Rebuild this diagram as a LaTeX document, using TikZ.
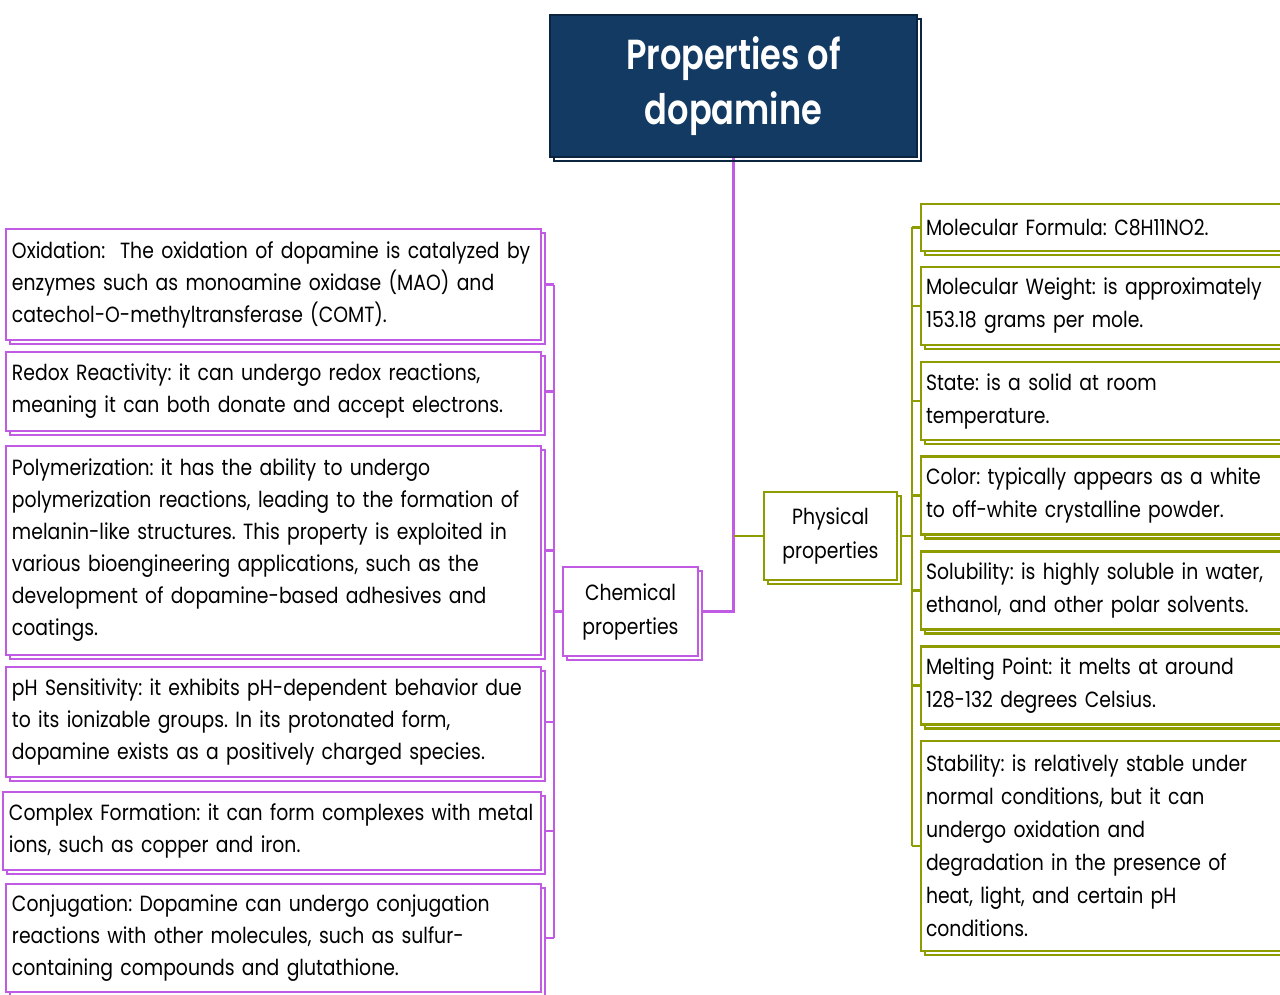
\documentclass[tikz,border=0pt]{standalone}
\usepackage{fontspec}
\setmainfont[FakeStretch=0.855]{Poppins}
\newfontfamily\titlefont[FakeStretch=0.80]{Poppins SemiBold}
\usetikzlibrary{backgrounds}

\definecolor{chemcol}{HTML}{C25BE3}
\definecolor{physcol}{HTML}{8E9C00}
\definecolor{navy}{HTML}{133A62}
\definecolor{navyedge}{HTML}{0B2440}

\tikzset{
  boxline/.style={line width=2.8pt},
  % keep the hand-set line breaks: a slightly long line may run past the edge
  keeplines/.style={execute at begin node={\rightskip=0pt plus 1fil minus 60pt}},
  leftbox/.style={boxline, draw=chemcol, fill=white, rectangle,
    text width=523pt, align=left, keeplines, inner xsep=6pt, inner ysep=0pt,
    minimum height=#1,
    font=\fontsize{22}{32}\selectfont,
    preaction={draw=chemcol, boxline, transform canvas={shift={(4pt,-4pt)}}}},
  rightbox/.style={boxline, draw=physcol, fill=white, rectangle,
    text width=369pt, align=left, keeplines, inner xsep=5pt, inner ysep=0pt,
    minimum height=#1,
    font=\fontsize{22}{33}\selectfont,
    preaction={draw=physcol, boxline, transform canvas={shift={(4pt,-4pt)}}}},
  groupbox/.style={boxline, draw=#1, fill=white, rectangle, align=center,
    inner sep=0pt, font=\fontsize{22}{34}\selectfont,
    preaction={draw=#1, boxline, transform canvas={shift={(4pt,-4pt)}}}},
  chemline/.style={draw=chemcol, line width=2.8pt},
  physline/.style={draw=physcol, line width=2.8pt},
}

\begin{document}
\frenchspacing
\begin{tikzpicture}[x=1pt,y=-1pt]
\useasboundingbox (0,0) rectangle (1280,995);
\clip (0,0) rectangle (1280,995);

% title
\node[rectangle, fill=navy, draw=navyedge, line width=2.4pt,
      minimum width=367pt, minimum height=142pt, inner sep=0pt,
      align=center, text=white,
      font=\titlefont\fontsize{42}{55}\selectfont,
      preaction={draw=navyedge, line width=2.4pt, transform canvas={shift={(4pt,-4pt)}}}]
  (title) at (733.5,86) {Properties of\\dopamine};

% group heads
\node[groupbox=chemcol, minimum width=135pt, minimum height=89pt]
  (chem) at (630.5,611.5) {Chemical\\properties};
\node[groupbox=physcol, minimum width=133pt, minimum height=88pt]
  (phys) at (830.5,536) {Physical\\properties};

% chemical properties
\node[leftbox=111pt] (L1) at (273.5,284.5)
  {Oxidation:~ The oxidation of dopamine is catalyzed by\\
   enzymes such as monoamine oxidase (MAO) and\\
   catechol-O-methyltransferase (COMT).};
\node[leftbox=79pt] (L2) at (273.5,391.5)
  {Redox Reactivity: it can undergo redox reactions,\\
   meaning it can both donate and accept electrons.};
\node[leftbox=209pt] (L3) at (273.5,550.5)
  {Polymerization: it has the ability to undergo\\
   polymerization reactions, leading to the formation of\\
   melanin-like structures. This property is exploited in\\
   various bioengineering applications, such as the\\
   development of dopamine-based adhesives and\\
   coatings.};
\node[leftbox=110pt] (L4) at (273.5,722)
  {pH Sensitivity: it exhibits pH-dependent behavior due\\
   to its ionizable groups. In its protonated form,\\
   dopamine exists as a positively charged species.};
\node[leftbox=78pt, text width=526pt] (L5) at (272,831)
  {Complex Formation: it can form complexes with metal\\
   ions, such as copper and iron.};
\node[leftbox=108pt] (L6) at (273.5,938)
  {Conjugation: Dopamine can undergo conjugation\\
   reactions with other molecules, such as sulfur-\\
   containing compounds and glutathione.};

% physical properties
\node[rightbox=47pt] (R1) at (1110.5,227.5)
  {Molecular Formula: C8H11NO2.};
\node[rightbox=78pt] (R2) at (1110.5,306)
  {Molecular Weight: is approximately\\
   153.18 grams per mole.};
\node[rightbox=78pt] (R3) at (1110.5,401)
  {State: is a solid at room\\
   temperature.};
\node[rightbox=78pt] (R4) at (1110.5,495.5)
  {Color: typically appears as a white\\
   to off-white crystalline powder.};
\node[rightbox=78pt] (R5) at (1110.5,590.5)
  {Solubility: is highly soluble in water,\\
   ethanol, and other polar solvents.};
\node[rightbox=78pt] (R6) at (1110.5,685.5)
  {Melting Point: it melts at around\\
   128-132 degrees Celsius.};
\node[rightbox=210pt] (R7) at (1110.5,846)
  {Stability: is relatively stable under\\
   normal conditions, but it can\\
   undergo oxidation and\\
   degradation in the presence of\\
   heat, light, and certain pH\\
   conditions.};

% trunk positions
\coordinate (lt) at (554,0);
\coordinate (rt) at (912,0);

\begin{scope}[on background layer]
  % chemical branch
  \draw[chemline] (L1.east -| lt) -- (L6.east -| lt);
  \foreach \n in {L1,L2,L3,L4,L5,L6}
    \draw[chemline] ([xshift=4pt]\n.east) -- (\n.east -| lt);
  \draw[chemline] (chem.west -| lt) -- (chem.west);
  \draw[chemline] ([xshift=4pt]chem.east) -| (title.south);
  % physical branch
  \draw[physline] (phys.west -| title.south) -- (phys.west);
  \draw[physline] ([xshift=4pt]phys.east) -- (phys.east -| rt);
  \draw[physline] (R1.west -| rt) -- (R7.west -| rt);
  \foreach \n in {R1,R2,R3,R4,R5,R6,R7}
    \draw[physline] (\n.west -| rt) -- (\n.west);
\end{scope}
\end{tikzpicture}
\end{document}
